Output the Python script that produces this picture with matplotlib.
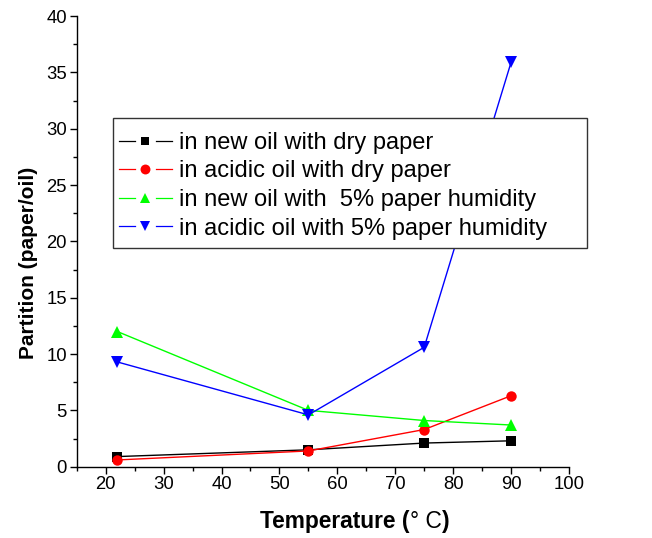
import matplotlib
matplotlib.use("Agg")
import matplotlib.pyplot as plt
from matplotlib.lines import Line2D
from matplotlib.patches import Rectangle
from matplotlib.legend_handler import HandlerBase
from matplotlib.ticker import MultipleLocator

plt.rcParams['font.family'] = ['Liberation Sans', 'DejaVu Sans']

temperature = [22, 55, 75, 90]
new_dry = [0.9, 1.5, 2.1, 2.3]
acidic_dry = [0.6, 1.4, 3.3, 6.3]
new_humid = [12.0, 5.0, 4.1, 3.7]
acidic_humid = [9.3, 4.6, 10.6, 35.9]

labels = [
    "in new oil with dry paper",
    "in acidic oil with dry paper",
    "in new oil with  5% paper humidity",
    "in acidic oil with 5% paper humidity",
]
colors = ["#000000", "#ff0000", "#00ff00", "#0000ff"]
markers = ["s", "o", "^", "v"]
msizes = [6.5, 7.5, 8, 8]

W, H = 652, 538


class GapLineHandler(HandlerBase):
    """Legend key drawn as line - marker - line with small gaps."""

    def create_artists(self, legend, orig_handle, xdescent, ydescent,
                       width, height, fontsize, trans):
        y = height / 2.0 - ydescent
        x0 = -xdescent
        xm = x0 + width / 2.0
        gap = 0.2 * width
        kw = dict(color=orig_handle.get_color(), lw=0.9)
        left = Line2D([x0, xm - gap], [y, y], **kw)
        right = Line2D([xm + gap, x0 + width], [y, y], **kw)
        mk = Line2D([xm], [y], linestyle='none',
                    marker=orig_handle.get_marker(),
                    markersize=orig_handle.get_markersize() * 0.95,
                    color=orig_handle.get_color(), markeredgewidth=0)
        for a in (left, right, mk):
            a.set_transform(trans)
        return [left, right, mk]


fig = plt.figure(figsize=(W / 100, H / 100), dpi=100)
ax = fig.add_axes([0.1177, 0.1325, 0.7550, 0.8377])

series = [new_dry, acidic_dry, new_humid, acidic_humid]
handles = []
for vals, c, m, ms, lab in zip(series, colors, markers, msizes, labels):
    h, = ax.plot(temperature, vals, color=c, lw=1.0, marker=m,
                 markersize=ms, markeredgewidth=0, label=lab)
    handles.append(h)

ax.set_xlim(15, 100)
ax.set_ylim(0, 40)
ax.xaxis.set_major_locator(MultipleLocator(10))
ax.xaxis.set_minor_locator(MultipleLocator(5))
ax.yaxis.set_major_locator(MultipleLocator(5))
ax.yaxis.set_minor_locator(MultipleLocator(2.5))
ax.set_xticks(range(20, 101, 10))
ax.spines['top'].set_visible(False)
ax.spines['right'].set_visible(False)
for s in ('left', 'bottom'):
    ax.spines[s].set_linewidth(1.0)
ax.tick_params(which='major', direction='out', length=5, width=1.0,
               labelsize=13.3, pad=2)
ax.tick_params(which='minor', direction='out', length=3, width=1.0)

# axis titles
t1 = fig.text(0.399, 0.018, "Temperature (", fontsize=16.4, fontweight='bold',
              ha='left', va='baseline')
t2 = ax.annotate("\u00b0 C", xy=(1, 0), xycoords=t1, fontsize=16.4,
                 ha='left', va='bottom', annotation_clip=False)
ax.annotate(")", xy=(1, 0), xycoords=t2, fontsize=16.4, fontweight='bold',
            ha='left', va='bottom', annotation_clip=False)
fig.text(0.044, 1 - 263 / H, "Partition (paper/oil)", fontsize=15,
         fontweight='bold', rotation=90, ha='center', va='center')

# legend box (wider than its contents) drawn as a separate frame
box_l, box_t, box_r, box_b = 113, 118, 587, 248
frame = Rectangle((box_l / W, 1 - box_b / H), (box_r - box_l) / W,
                  (box_b - box_t) / H, transform=fig.transFigure,
                  facecolor='white', edgecolor='#333333', lw=1.0, zorder=5)
fig.add_artist(frame)

leg = fig.legend(handles=handles, labels=labels,
                 handler_map={Line2D: GapLineHandler()},
                 loc='upper left',
                 bbox_to_anchor=((box_l - 6) / W, 1 - (box_t + 2) / H),
                 fontsize=17, frameon=False,
                 borderpad=0.5, labelspacing=0.28, handlelength=2.25,
                 handletextpad=0.3, borderaxespad=0)
leg.set_zorder(6)

fig.savefig("out.png", dpi=100)
